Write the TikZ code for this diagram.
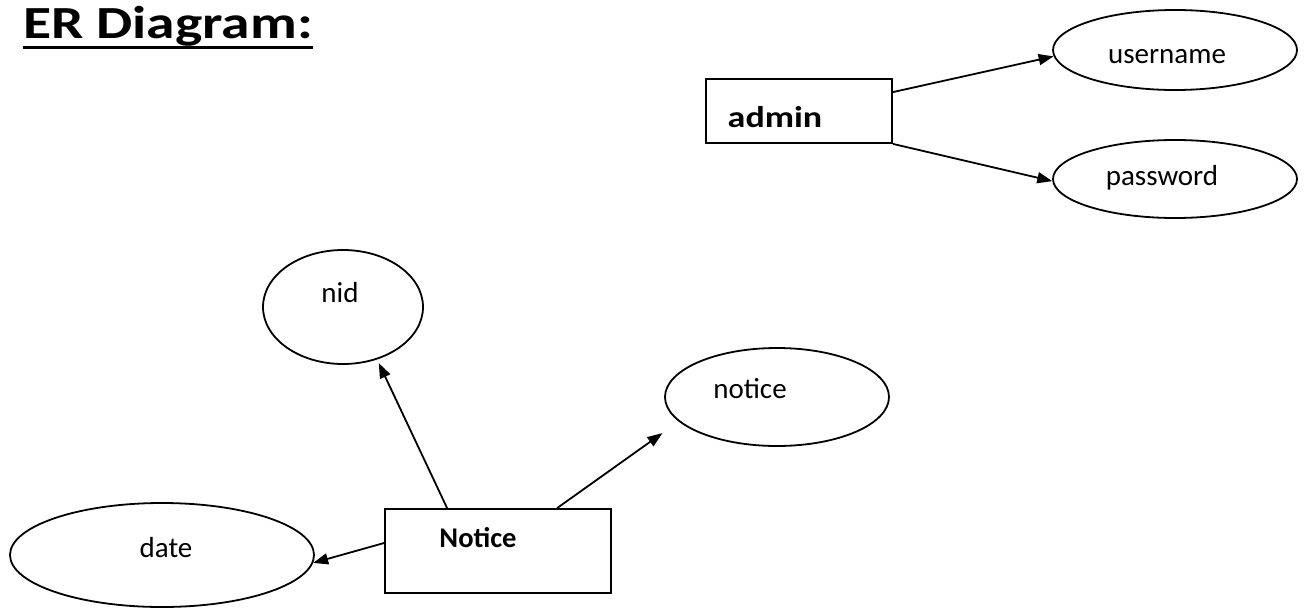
\documentclass[tikz,border=0pt]{standalone}
\usepackage{fontspec}
\setmainfont{Carlito}
\usetikzlibrary{arrows.meta,shapes.geometric,calc}
\begin{document}
\begin{tikzpicture}[x=1pt,y=-1pt,
  ent/.style={draw, line width=1.8pt, rectangle, inner sep=0pt},
  attr/.style={draw, line width=1.8pt, ellipse, inner sep=0pt},
  arr/.style={line width=1.8pt, -{Triangle[length=15pt,width=11pt]}},
  lbl/.style={anchor=base, inner sep=0pt, font=\fontsize{29}{31}\selectfont},
  blbl/.style={anchor=base, inner sep=0pt, font=\bfseries\fontsize{28.5}{31}\selectfont}]
\fill[white] (0,0) rectangle (1308,608);
\useasboundingbox (0,0) rectangle (1308,608);

% title
\node[anchor=base west, inner sep=0pt, font=\bfseries\fontsize{46}{50}\selectfont] (title) at (23,38) {\scalebox{1.25}[1]{ER Diagram:}};
\draw[line width=3pt] ([yshift=-9pt]title.base west) -- ([yshift=-9pt]title.base east);

% admin entity
\node[ent, minimum width=186pt, minimum height=64pt] (admin) at (799,111) {};
\node[blbl, font=\bfseries\fontsize{30}{32}\selectfont] (tadmin) at ($(admin.center)+(-24,16)$) {\scalebox{1.2}[1]{admin}};
\node[attr, minimum width=244pt, minimum height=80pt] (username) at (1175,50) {};
\node[lbl] (tusername) at ($(username.center)+(-8,13)$) {username};
\node[attr, minimum width=244pt, minimum height=78pt] (password) at (1175,179) {};
\node[lbl] (tpassword) at ($(password.center)+(-13,6)$) {password};

\draw[arr] ([yshift=-14pt]admin.north east) -- (username.183);
\draw[arr] (admin.south east) -- (password.181);

% Notice entity
\node[ent, minimum width=226pt, minimum height=84pt] (Notice) at (498,551) {};
\node[blbl] (tNotice) at ($(Notice.center)+(-20,-4)$) {Notice};
\node[attr, minimum width=160pt, minimum height=114pt] (nid) at (343,307) {};
\node[lbl] (tnid) at ($(nid.center)+(-3,-5)$) {nid};
\node[attr, minimum width=224pt, minimum height=98pt] (notice) at (777,397) {};
\node[lbl] (tnotice) at ($(notice.center)+(-27,1)$) {notice};
\node[attr, minimum width=304pt, minimum height=104pt] (date) at (162,555) {};
\node[lbl] (tdate) at ($(date.center)+(4,2)$) {date};

\draw[arr, shorten >=4pt] ([xshift=63pt]Notice.north west) -- (nid.303);
\draw[arr, shorten >=20pt] ([xshift=173pt]Notice.north west) -- (notice.194);
\draw[arr] ([yshift=8pt]Notice.west) -- (date.357);
\end{tikzpicture}
\end{document}
